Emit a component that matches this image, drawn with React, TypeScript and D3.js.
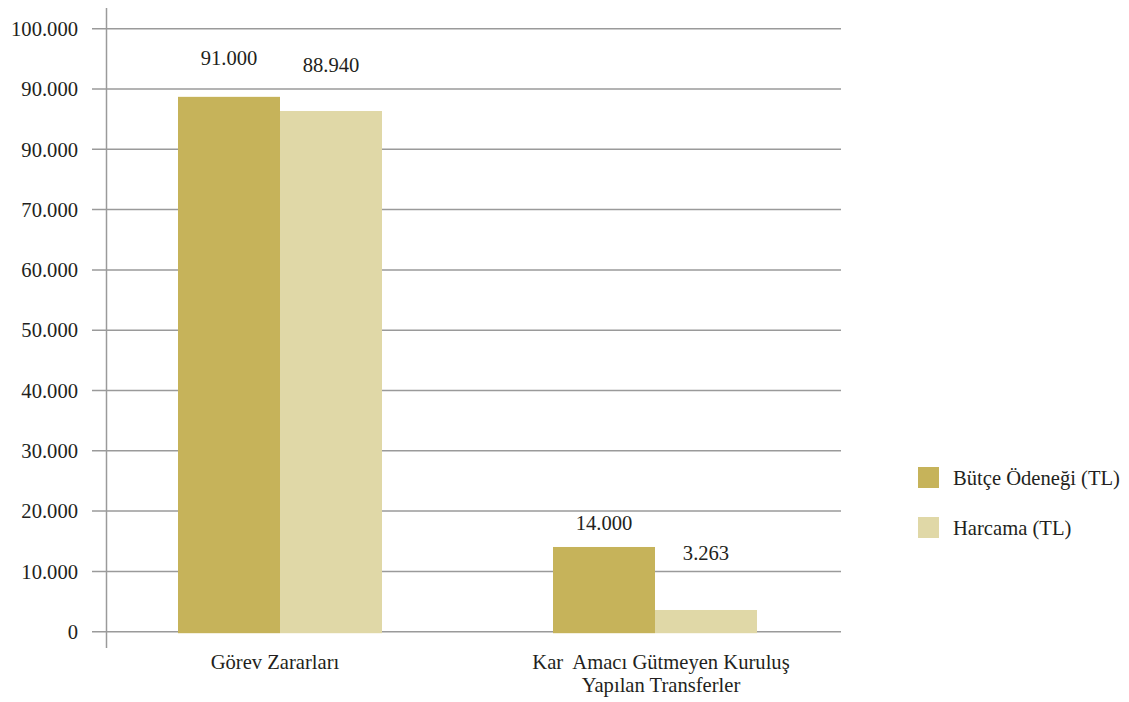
import * as d3 from "d3";

const categories = ["Görev Zararları", "Kar  Amacı Gütmeyen Kuruluş|Yapılan Transferler"];
const seriesNames = ["Bütçe Ödeneği (TL)", "Harcama (TL)"];
// bar heights as drawn in the picture
const butceValues = [88700, 14050];
const harcamaValues = [86350, 3600];
// value labels as printed
const butceLabels = ["91.000", "14.000"];
const harcamaLabels = ["88.940", "3.263"];
const tickValues = [0, 10000, 20000, 30000, 40000, 50000, 60000, 70000, 80000, 90000, 100000];
const tickLabels = ["0", "10.000", "20.000", "30.000", "40.000", "50.000", "60.000", "70.000", "90.000", "90.000", "100.000"];

const W = 1129;
const H = 702;
const FS = 20.6;
const TEXT = "#231f20";
const GRID = "#9a9a9a";
const COLORS = ["#c6b35a", "#e0d8a7"];
const txt = { fontFamily: "Liberation Serif", whiteSpace: "pre" as const };
// how far each printed label sits above its bar (px), [group][series]
const labelLift = [
  [32, 39],
  [17, 50],
];

export default function App() {
  const y = d3.scaleLinear().domain([0, 100000]).range([631.7, 28.7]);
  const x0 = d3.scaleBand<string>().domain(categories).range([92.5, 842.5]);
  const x1 = d3
    .scaleBand<string>()
    .domain(seriesNames)
    .range([(x0.bandwidth() - 204) / 2, (x0.bandwidth() + 204) / 2]);

  const values = [butceValues, harcamaValues];
  const labels = [butceLabels, harcamaLabels];

  return (
    <svg
      width={W}
      height={H}
      style={{ position: "absolute", left: 0, top: 0, background: "#fff" }}
    >
      {/* gridlines + tick labels */}
      {tickValues.map((t, i) => (
        <g key={t}>
          <line x1={92} x2={841} y1={y(t)} y2={y(t)} stroke={GRID} strokeWidth={1.5} />
          <text x={78} y={y(t)} dy="0.35em" textAnchor="end" fontSize={FS} fill={TEXT} style={txt}>
            {tickLabels[i]}
          </text>
        </g>
      ))}

      {/* y axis line */}
      <line x1={106.5} x2={106.5} y1={8} y2={648} stroke={GRID} strokeWidth={1.5} />

      {/* bars */}
      {categories.map((c, ci) => (
        <g key={c} transform={`translate(${x0(c)},0)`}>
          {seriesNames.map((s, si) => {
            const v = values[si][ci];
            const bx = x1(s)!;
            return (
              <g key={s}>
                <rect
                  x={bx}
                  y={y(v)}
                  width={x1.bandwidth()}
                  height={y(0) - y(v) + 1.5}
                  fill={COLORS[si]}
                />
                <text
                  x={bx + x1.bandwidth() / 2}
                  y={y(v) - labelLift[ci][si]}
                  textAnchor="middle"
                  fontSize={FS}
                  fill={TEXT}
                  style={txt}
                >
                  {labels[si][ci]}
                </text>
              </g>
            );
          })}
        </g>
      ))}

      {/* category labels */}
      {categories.map((c) => {
        const lines = c.split("|");
        const cx = x0(c)! + x0.bandwidth() / 2;
        return (
          <text key={c} textAnchor="middle" fontSize={FS} fill={TEXT} style={txt}>
            {lines.map((l, li) => (
              <tspan key={li} x={cx + (lines.length > 1 ? 6 : -5)} y={669 + li * 23}>
                {l}
              </tspan>
            ))}
          </text>
        );
      })}

      {/* legend */}
      {seriesNames.map((s, i) => (
        <g key={s} transform={`translate(918,${467 + i * 50})`}>
          <rect width={21} height={21} fill={COLORS[i]} />
          <text x={35} y={10.5} dy="0.35em" fontSize={FS} fill={TEXT} style={txt}>
            {s}
          </text>
        </g>
      ))}
    </svg>
  );
}
